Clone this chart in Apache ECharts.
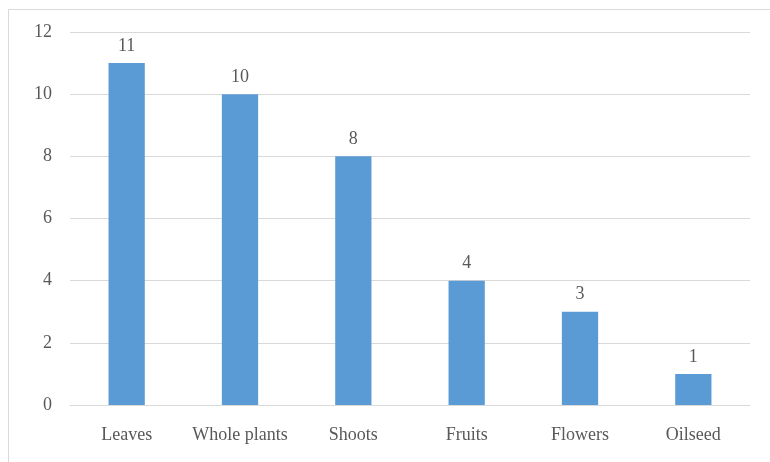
<!DOCTYPE html>
<html>
<head>
<meta charset="utf-8">
<script src="https://cdn.jsdelivr.net/npm/echarts@6/dist/echarts.min.js"></script>
<style>
  html, body { margin: 0; padding: 0; background: #fff; }
  #chart { width: 770px; height: 462px; }
</style>
</head>
<body>
<div id="chart"></div>
<script>
// Plant parts used and their counts
const categories = ['Leaves', 'Whole plants', 'Shoots', 'Fruits', 'Flowers', 'Oilseed'];
const counts = [11, 10, 8, 4, 3, 1];
const yTicks = { min: 0, max: 12, interval: 2 };

const textColor = '#595959';
const lineColor = '#D9D9D9';
const font = '"Liberation Serif", "Times New Roman", serif';

const chart = echarts.init(document.getElementById('chart'), null, { renderer: 'canvas' });
chart.setOption({
  animation: false,
  backgroundColor: '#fff',
  graphic: [{
    type: 'rect',
    shape: { x: 8.5, y: 9.5, width: 800, height: 500 },
    style: { fill: 'none', stroke: lineColor, lineWidth: 1 },
    silent: true
  }],
  grid: { left: 70, right: 20, top: 32, bottom: 57 },
  xAxis: {
    type: 'category',
    data: categories,
    axisLine: { show: true, lineStyle: { color: lineColor, width: 1 } },
    axisTick: { show: false },
    axisLabel: {
      interval: 0,
      hideOverlap: false,
      color: textColor,
      fontFamily: font,
      fontSize: 18,
      margin: 21
    }
  },
  yAxis: {
    type: 'value',
    min: yTicks.min,
    max: yTicks.max,
    interval: yTicks.interval,
    axisLine: { show: false },
    axisTick: { show: false },
    splitLine: { lineStyle: { color: lineColor, width: 1 } },
    axisLabel: { color: textColor, fontFamily: font, fontSize: 18, margin: 18 }
  },
  series: [{
    type: 'bar',
    data: counts,
    barWidth: '32%',
    itemStyle: { color: '#5B9BD5' },
    label: {
      show: true,
      position: 'top',
      distance: 8,
      color: textColor,
      fontFamily: font,
      fontSize: 18
    }
  }]
});
</script>
</body>
</html>
